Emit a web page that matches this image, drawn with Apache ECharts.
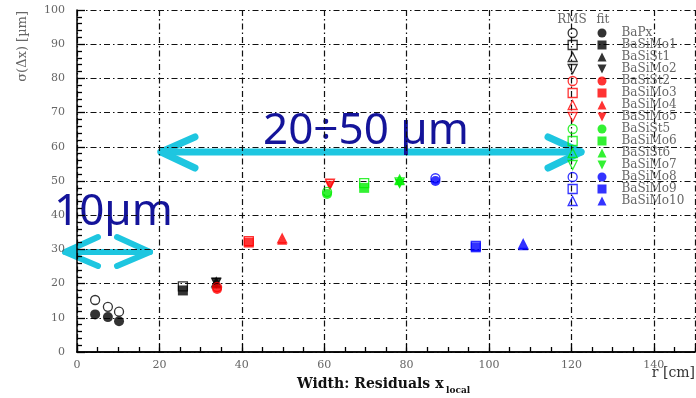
<!DOCTYPE html>
<html>
<head>
<meta charset="utf-8">
<script src="https://cdn.jsdelivr.net/npm/echarts@6/dist/echarts.min.js"></script>
<style>
  html, body { margin: 0; padding: 0; background: #fff; }
  #chart { width: 696px; height: 398px; }
</style>
</head>
<body>
<div id="chart"></div>
<script>
// detector layers, r [cm] and sigma(dx) [um]
const detectors = ["BaPx", "BaSiMo1", "BaSiSt1", "BaSiMo2", "BaSiSt2", "BaSiMo3", "BaSiMo4", "BaSiMo5",
  "BaSiSt5", "BaSiMo6", "BaSiSt6", "BaSiMo7", "BaSiMo8", "BaSiMo9", "BaSiMo10"];
const radius = [[4.4, 7.5, 10.2], [25.7], [33.8], [33.8], [34], [41.7], [49.8], [61.4],
  [60.7], [69.7], [78.3], [78.3], [87], [96.8], [108.3]];
const rmsValues = [[15.2, 13.2, 11.8], [19.2], [20.4], [20.2], [19], [32.4], [33.2], [49.2],
  [46.8], [49.4], [50.4], [49.6], [50.8], [31], [31.6]];
const fitValues = [[11, 10.2, 9], [18], [20], [20.3], [18.4], [32], [32.8], [48.6],
  [46.2], [48], [50.2], [49.2], [50], [30.6], [31.2]];

const detColors = ["#000", "#000", "#000", "#000", "#ff0000", "#ff0000", "#ff0000", "#ff0000",
  "#00ee00", "#00ee00", "#00ee00", "#00ee00", "#0000ff", "#0000ff", "#0000ff"];
const INV_TRI = "path://M0,0L10,0L5,10Z";
const detSymbols = ["circle", "rect", "triangle", INV_TRI, "circle", "rect", "triangle", INV_TRI,
  "circle", "rect", "triangle", INV_TRI, "circle", "rect", "triangle"];

const SERIF = "DejaVu Serif";
const GREY = "#666";
const CYAN = "#1ec6e0";
const NAVY = "#14149a";

const series = [];
detectors.forEach((name, i) => {
  series.push({
    name: name + " RMS",
    type: "scatter",
    symbol: detSymbols[i],
    symbolSize: 9,
    itemStyle: { color: "rgba(0,0,0,0)", borderColor: detColors[i], borderWidth: 1.3 },
    data: radius[i].map((r, k) => [r, rmsValues[i][k]]),
  });
  series.push({
    name: name,
    type: "scatter",
    symbol: detSymbols[i],
    symbolSize: 10,
    itemStyle: { color: detColors[i] },
    data: radius[i].map((r, k) => [r, fitValues[i][k]]),
  });
});

const dashDot = { color: "#111", width: 1.2, type: [6, 3, 1.5, 3] };
const legendBase = {
  orient: "vertical",
  top: 27,
  padding: 0,
  itemWidth: 9,
  itemHeight: 9,
  itemGap: 0,
  selectedMode: false,
  textStyle: { fontFamily: SERIF, fontSize: 12, color: GREY, lineHeight: 12 },
};

const chart = echarts.init(document.getElementById("chart"));
chart.setOption({
  animation: false,
  grid: { left: 77, right: 1, top: 10, bottom: 46, containLabel: false },
  legend: [
    Object.assign({}, legendBase, {
      left: 567.5,
      data: detectors.map((d) => d + " RMS"),
      formatter: () => " ",
      itemStyle: { borderWidth: 1.3 },
    }),
    Object.assign({}, legendBase, {
      left: 597.5,
      data: detectors,
      textStyle: Object.assign({}, legendBase.textStyle, { padding: [0, 0, 0, 10] }),
    }),
  ],
  xAxis: [
    {
      type: "value",
      min: 0,
      max: 150,
      interval: 20,
      axisLine: { onZero: false, lineStyle: { color: "#000", width: 1.5 } },
      axisTick: { inside: true, length: 8, lineStyle: { color: "#000", width: 1.3 } },
      minorTick: { show: true, splitNumber: 4, length: 5, lineStyle: { color: "#000", width: 1.3 } },
      axisLabel: { color: GREY, fontFamily: SERIF, fontSize: 11, margin: 8, showMaxLabel: false },
      splitLine: { show: true, lineStyle: dashDot },
    },
    {
      type: "value",
      position: "top",
      min: 0,
      max: 150,
      axisLine: { show: true, lineStyle: { color: "#000", width: 1.5 } },
      axisTick: { show: false },
      axisLabel: { show: false },
      splitLine: { show: false },
    },
  ],
  yAxis: {
    type: "value",
    min: 0,
    max: 100,
    interval: 10,
    axisLine: { show: true, onZero: false, lineStyle: { color: "#000", width: 1.5 } },
    axisTick: { show: true, inside: true, length: 8, lineStyle: { color: "#000", width: 1.3 } },
    minorTick: { show: true, splitNumber: 5, length: 5, lineStyle: { color: "#000", width: 1.3 } },
    axisLabel: { color: GREY, fontFamily: SERIF, fontSize: 11, margin: 12 },
    splitLine: { show: true, lineStyle: dashDot },
  },
  series: series,
  graphic: [
    // legend column headers
    { type: "text", x: 572, y: 20,
      style: { text: "RMS", font: "12px " + SERIF, fill: GREY, align: "center", verticalAlign: "middle" } },
    { type: "text", x: 603, y: 20,
      style: { text: "fit", font: "12px " + SERIF, fill: GREY, align: "center", verticalAlign: "middle" } },
    // axis titles
    { type: "text", x: 23, y: 11, rotation: Math.PI / 2,
      style: { text: "σ(Δx) [µm]", font: "13px " + SERIF, fill: GREY, align: "right", verticalAlign: "middle" } },
    { type: "text", x: 695, y: 373,
      style: { text: "r [cm]", font: "14px " + SERIF, fill: "#333", align: "right", verticalAlign: "middle" } },
    { type: "text", x: 297, y: 384,
      style: { text: "Width: Residuals x", font: "bold 14px " + SERIF, fill: "#111", align: "left", verticalAlign: "middle" } },
    { type: "text", x: 446, y: 391,
      style: { text: "local", font: "bold 9px " + SERIF, fill: "#111", align: "left", verticalAlign: "middle" } },
    // annotations
    { type: "polyline", shape: { points: [[161, 152], [581, 152]] },
      style: { stroke: CYAN, lineWidth: 7, lineCap: "round", fill: null } },
    { type: "polyline", shape: { points: [[195, 137], [161, 152], [195, 168]] },
      style: { stroke: CYAN, lineWidth: 7, lineCap: "round", lineJoin: "round", fill: null } },
    { type: "polyline", shape: { points: [[548, 137], [581, 152], [548, 168]] },
      style: { stroke: CYAN, lineWidth: 7, lineCap: "round", lineJoin: "round", fill: null } },
    { type: "polyline", shape: { points: [[65, 252], [150, 252]] },
      style: { stroke: CYAN, lineWidth: 6, lineCap: "round", fill: null } },
    { type: "polyline", shape: { points: [[98, 237], [65, 252], [98, 266]] },
      style: { stroke: CYAN, lineWidth: 6, lineCap: "round", lineJoin: "round", fill: null } },
    { type: "polyline", shape: { points: [[117, 237], [150, 252], [117, 266]] },
      style: { stroke: CYAN, lineWidth: 6, lineCap: "round", lineJoin: "round", fill: null } },
    { type: "text", x: 263, y: 131,
      style: { text: "20÷50 µm", font: "44px 'Noto Sans'", fill: NAVY, align: "left", verticalAlign: "middle" } },
    { type: "text", x: 54, y: 212,
      style: { text: "10µm", font: "44px 'Noto Sans'", fill: NAVY, align: "left", verticalAlign: "middle" } },
  ],
});
</script>
</body>
</html>
